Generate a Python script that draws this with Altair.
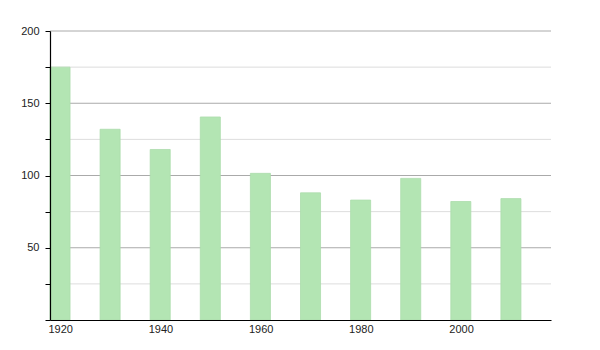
import altair as alt
import pandas as pd

years = [1920, 1930, 1940, 1950, 1960, 1970, 1980, 1990, 2000, 2010]
values = [175, 132, 118, 140.5, 101.5, 88, 83, 98, 82, 84]
bar_span = 4  # years covered by each bar
x_domain = [1920, 2020]
x_ticks = [1920, 1940, 1960, 1980, 2000]
y_ticks = [0, 25, 50, 75, 100, 125, 150, 175, 200]

df = pd.DataFrame({"year": years, "value": values})
grid_df = pd.DataFrame({"value": [t for t in y_ticks if t > 0]})

x_scale = alt.Scale(domain=x_domain, nice=False, zero=False)
y_scale = alt.Scale(domain=[0, 200], nice=False)

x_axis = alt.Axis(
    values=x_ticks,
    format="d",
    title=None,
    grid=False,
    ticks=False,
    labelAlign="left",
    labelOffset=-2,
    labelPadding=3,
    labelFont="Liberation Sans",
    labelFontSize=11,
    labelColor="#222",
    domainColor="#000",
    domainWidth=1.2,
    zindex=1,
)
y_axis = alt.Axis(
    values=y_ticks,
    title=None,
    labelExpr="datum.value % 50 === 0 && datum.value > 0 ? datum.label : ''",
    grid=False,
    tickSize=5,
    tickColor="#000",
    labelPadding=6,
    labelFont="Liberation Sans",
    labelFontSize=11,
    labelColor="#222",
    domainColor="#000",
    domainWidth=1.2,
    zindex=1,
)

grid = (
    alt.Chart(grid_df)
    .mark_rule(strokeWidth=1)
    .encode(
        y=alt.Y("value:Q", scale=y_scale, axis=y_axis),
        x=alt.datum(x_domain[0], scale=x_scale, axis=x_axis),
        x2=alt.datum(x_domain[1]),
        color=alt.condition("datum.value % 50 === 0", alt.value("#aaaaaa"), alt.value("#dddddd")),
    )
)

bars = (
    alt.Chart(df)
    .transform_calculate(year_end=f"datum.year + {bar_span}", base="0")
    .mark_bar(color="#b3e5b3", stroke="#acdcac", strokeWidth=0.8)
    .encode(
        x=alt.X("year:Q", scale=x_scale, axis=x_axis),
        x2="year_end:Q",
        y=alt.Y("value:Q", scale=y_scale, axis=y_axis),
        y2="base:Q",
    )
)

chart = (
    alt.layer(grid, bars)
    .properties(
        width=501,
        height=289,
        autosize=alt.AutoSizeParams(type="none"),
        padding={"left": 50, "top": 31, "right": 49, "bottom": 30},
    )
    .configure_view(stroke=None)
)

chart.save("out.html", embed_options={"renderer": "svg", "actions": False})
